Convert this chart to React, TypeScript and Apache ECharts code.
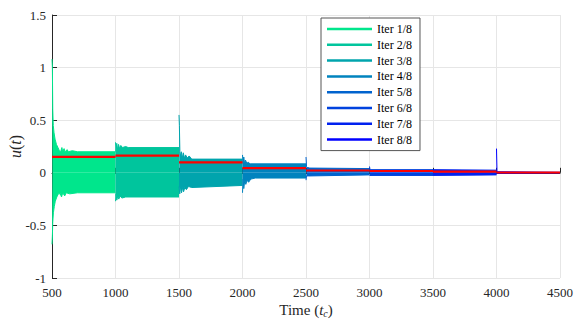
import React, { useEffect, useRef } from "react";
import * as echarts from "echarts";

const iterNames = ["Iter 1/8", "Iter 2/8", "Iter 3/8", "Iter 4/8", "Iter 5/8", "Iter 6/8", "Iter 7/8", "Iter 8/8"];
const iterColors = ["#00e68c", "#00c59d", "#00a4ad", "#0083be", "#0063ce", "#0042de", "#0021ef", "#0000ff"];
const iterStarts = [500, 1000, 1500, 2000, 2500, 3000, 3500, 4000];
const iterEnds = [1000, 1500, 2000, 2500, 3000, 3500, 4000, 4500];

// upper / lower envelopes of the oscillating control signal, [time, u]
const upper1 = [[500, 1.08], [503, 1.0], [506, 0.6], [510, 0.45], [516, 0.38], [524, 0.32], [535, 0.27], [547, 0.24], [558, 0.21], [568, 0.2], [578, 0.24], [584, 0.2], [595, 0.23], [602, 0.2], [620, 0.22], [628, 0.2], [660, 0.21], [700, 0.2], [1000, 0.2]];
const lower1 = [[500, -0.68], [503, -0.6], [506, -0.47], [511, -0.38], [518, -0.32], [526, -0.27], [538, -0.23], [550, -0.2], [565, -0.2], [575, -0.23], [585, -0.19], [600, -0.22], [612, -0.19], [640, -0.2], [700, -0.19], [1000, -0.19]];
const upper2 = [[1000, 0.29], [1005, 0.2], [1010, 0.28], [1016, 0.22], [1024, 0.27], [1032, 0.23], [1042, 0.26], [1055, 0.24], [1080, 0.25], [1100, 0.24], [1500, 0.24]];
const lower2 = [[1000, -0.27], [1005, -0.2], [1010, -0.26], [1018, -0.22], [1026, -0.25], [1036, -0.22], [1050, -0.24], [1080, -0.23], [1500, -0.23]];
const upper3 = [[1500, 0.55], [1503, 0.45], [1507, 0.2], [1512, 0.16], [1518, 0.2], [1526, 0.14], [1534, 0.19], [1542, 0.14], [1552, 0.17], [1565, 0.14], [1580, 0.16], [1600, 0.13], [2000, 0.13]];
const lower3 = [[1500, -0.13], [1506, -0.2], [1512, -0.13], [1520, -0.19], [1528, -0.14], [1536, -0.18], [1546, -0.14], [1558, -0.16], [1575, -0.13], [1600, -0.14], [2000, -0.12]];
const upper4 = [[2000, 0.17], [2005, 0.09], [2010, 0.15], [2016, 0.09], [2024, 0.12], [2034, 0.09], [2045, 0.1], [2060, 0.085], [2500, 0.085]];
const lower4 = [[2000, -0.19], [2005, -0.06], [2010, -0.15], [2018, -0.07], [2026, -0.11], [2036, -0.07], [2048, -0.09], [2065, -0.06], [2100, -0.05], [2500, -0.05]];
const upper5 = [[2500, 0.15], [2504, 0.06], [2512, 0.05], [2530, 0.045], [3000, 0.04]];
const lower5 = [[2500, -0.07], [2504, -0.03], [2520, -0.03], [3000, -0.02]];
const upper6 = [[3000, 0.06], [3004, 0.03], [3500, 0.03]];
const lower6 = [[3000, -0.03], [3004, -0.025], [3500, -0.025]];
const upper7 = [[3500, 0.03], [4000, 0.025]];
const lower7 = [[3500, -0.025], [4000, -0.02]];
const upper8 = [[4000, 0.23], [4004, 0.01], [4500, 0.005]];
const lower8 = [[4000, -0.01], [4004, -0.005], [4500, -0.002]];

const uppers = [upper1, upper2, upper3, upper4, upper5, upper6, upper7, upper8];
const lowers = [lower1, lower2, lower3, lower4, lower5, lower6, lower7, lower8];

// red reference (mean) level for each iteration
const redLevels = [0.152, 0.163, 0.099, 0.045, 0.022, 0.017, 0.012, 0.003];

const SERIF = "Liberation Serif";
const AX = "#262626";

export default function App() {
  const ref = useRef<HTMLDivElement>(null);
  useEffect(() => {
    if (!ref.current) return;
    const chart = echarts.init(ref.current, undefined, { renderer: "svg" });
    const series: any[] = [];
    iterNames.forEach((name, i) => {
      [uppers[i], lowers[i]].forEach((d) => {
        series.push({
          name,
          type: "line",
          data: d,
          symbol: "none",
          silent: true,
          color: iterColors[i],
          lineStyle: { width: 1, color: iterColors[i] },
          areaStyle: { origin: 0, color: iterColors[i], opacity: 1 },
          z: 2,
        });
      });
    });
    redLevels.forEach((v, i) => {
      series.push({
        name: "ref" + (i + 1),
        type: "line",
        data: [[iterStarts[i], v], [iterEnds[i], v]],
        symbol: "none",
        silent: true,
        lineStyle: { width: 2.2, color: "#ff0000" },
        z: 5,
      });
    });

    chart.setOption({
      animation: false,
      grid: { left: 52, right: 21, top: 15, bottom: 44, containLabel: false, outerBoundsMode: "none" },
      legend: {
        data: iterNames,
        orient: "vertical",
        left: 321,
        top: 18,
        padding: [5, 8, 5, 6],
        itemGap: 3.8,
        itemWidth: 45,
        itemHeight: 2.5,
        icon: "rect",
        backgroundColor: "#ffffff",
        borderColor: "#555555",
        borderWidth: 1,
        borderRadius: 0,
        selectedMode: false,
        textStyle: { fontFamily: SERIF, fontSize: 12, color: "#000" },
      },
      xAxis: {
        type: "value",
        min: 500,
        max: 4500,
        interval: 500,
        name: "{n|Time (}{i|t}{s|c}{n|)}",
        nameLocation: "middle",
        nameGap: 24,
        nameMoveOverlap: false,
        nameTextStyle: {
          rich: {
            n: { fontFamily: SERIF, fontSize: 15, color: AX },
            i: { fontFamily: SERIF, fontSize: 15, fontStyle: "italic", color: AX },
            s: { fontFamily: SERIF, fontSize: 10, fontStyle: "italic", color: AX, padding: [6, 0, 0, 0] },
          },
        },
        axisLine: { show: true, lineStyle: { color: AX, width: 1 } },
        axisTick: { show: true, inside: true, length: 5, lineStyle: { color: AX } },
        axisLabel: { fontFamily: SERIF, fontSize: 13, color: AX, margin: 8, formatter: (v: number) => String(v) },
        splitLine: { show: true, lineStyle: { color: "#e6e6e6", width: 1 } },
      },
      yAxis: {
        type: "value",
        min: -1,
        max: 1.5,
        interval: 0.5,
        name: "{i|u}{n|(}{i|t}{n|)}",
        nameLocation: "middle",
        nameGap: 29,
        nameMoveOverlap: false,
        nameTextStyle: {
          rich: {
            n: { fontFamily: SERIF, fontSize: 16, color: AX },
            i: { fontFamily: SERIF, fontSize: 16, fontStyle: "italic", color: AX },
          },
        },
        axisLine: { show: true, lineStyle: { color: AX, width: 1 } },
        axisTick: { show: true, inside: true, length: 5, lineStyle: { color: AX } },
        axisLabel: { fontFamily: SERIF, fontSize: 13, color: AX, margin: 6, formatter: (v: number) => String(v) },
        splitLine: { show: true, lineStyle: { color: "#e6e6e6", width: 1 } },
      },
      series,
    });
    return () => chart.dispose();
  }, []);
  return <div ref={ref} style={{ width: 581, height: 322, position: "absolute", left: 0, top: 0 }} />;
}
